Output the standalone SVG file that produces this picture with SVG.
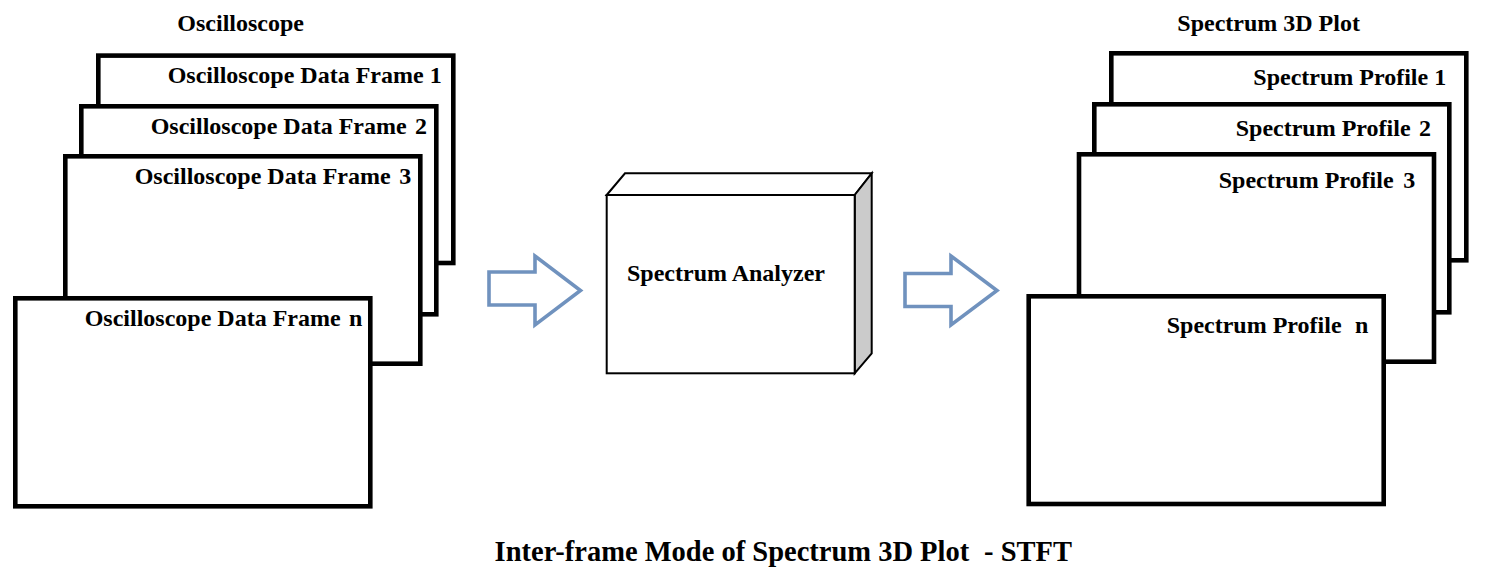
<svg xmlns="http://www.w3.org/2000/svg" width="1493" height="577" viewBox="0 0 1493 577">
<style>
text{font-family:"Liberation Serif","Times New Roman",serif;font-weight:bold;font-size:24px;fill:#000}
.frame{fill:#fff;stroke:#000;stroke-width:4.6}
.arrow{fill:#fff;stroke:#7092BE;stroke-width:3.6;stroke-linejoin:miter}
.box{stroke:#000;stroke-width:2;stroke-linejoin:miter}
.cap{font-size:28.5px}
</style>
<rect width="1493" height="577" fill="#fff"/>
<text x="177.3" y="31">Oscilloscope</text>
<text x="1177.3" y="31">Spectrum 3D Plot</text>

<g id="osc-frame-1">
<rect class="frame" x="98.3" y="55.6" width="355" height="207.4"/>
<text x="167.7" y="82.5">Oscilloscope Data Frame 1</text>
</g>
<g id="osc-frame-2">
<rect class="frame" x="81.3" y="106.3" width="355" height="208"/>
<text x="150.7" y="134.3">Oscilloscope Data Frame</text><text x="415" y="134.3">2</text>
</g>
<g id="osc-frame-3">
<rect class="frame" x="65.3" y="156.3" width="355" height="207.4"/>
<text x="134.7" y="184">Oscilloscope Data Frame</text><text x="399.3" y="184">3</text>
</g>
<g id="osc-frame-n">
<rect class="frame" x="15.3" y="298.3" width="355" height="208"/>
<text x="84.7" y="325.7">Oscilloscope Data Frame</text><text x="349" y="325.7">n</text>
</g>

<g id="spectrum-analyzer">
<polygon class="box" fill="#fff" points="606.7,195 625,173.3 871.7,173.3 854.7,195"/>
<polygon class="box" fill="#cbcbcb" points="854.7,195 871.7,173.3 871.7,353.3 854.7,373.3"/>
<rect class="box" fill="#fff" x="606.7" y="195" width="248" height="178.3"/>
<text x="726" y="281" text-anchor="middle">Spectrum Analyzer</text>
</g>

<g id="spec-profile-1">
<rect class="frame" x="1111.3" y="53.3" width="355" height="207"/>
<text x="1253.3" y="85">Spectrum Profile 1</text>
</g>
<g id="spec-profile-2">
<rect class="frame" x="1094.3" y="104.3" width="355" height="208"/>
<text x="1235.7" y="135.7">Spectrum Profile</text><text x="1419" y="135.7">2</text>
</g>
<g id="spec-profile-3">
<rect class="frame" x="1079" y="154.3" width="355" height="207.4"/>
<text x="1218.7" y="188.3">Spectrum Profile</text><text x="1403.3" y="188.3">3</text>
</g>
<g id="spec-profile-n">
<rect class="frame" x="1028.7" y="296.3" width="355" height="207.7"/>
<text x="1166.7" y="333.3">Spectrum Profile</text><text x="1355" y="333.3">n</text>
</g>

<g id="connectors">
<polygon class="arrow" points="489,272 535,272 535,256 580.5,290.5 535,325 535,305 489,305"/>
<polygon class="arrow" points="905,273.5 951,273.5 951,256 997,290.5 951,325 951,306.5 905,306.5"/>
</g>

<text class="cap" x="494.6" y="561">Inter-frame Mode of Spectrum 3D Plot</text>
<text class="cap" x="1072" y="561" text-anchor="end">- STFT</text>
</svg>
